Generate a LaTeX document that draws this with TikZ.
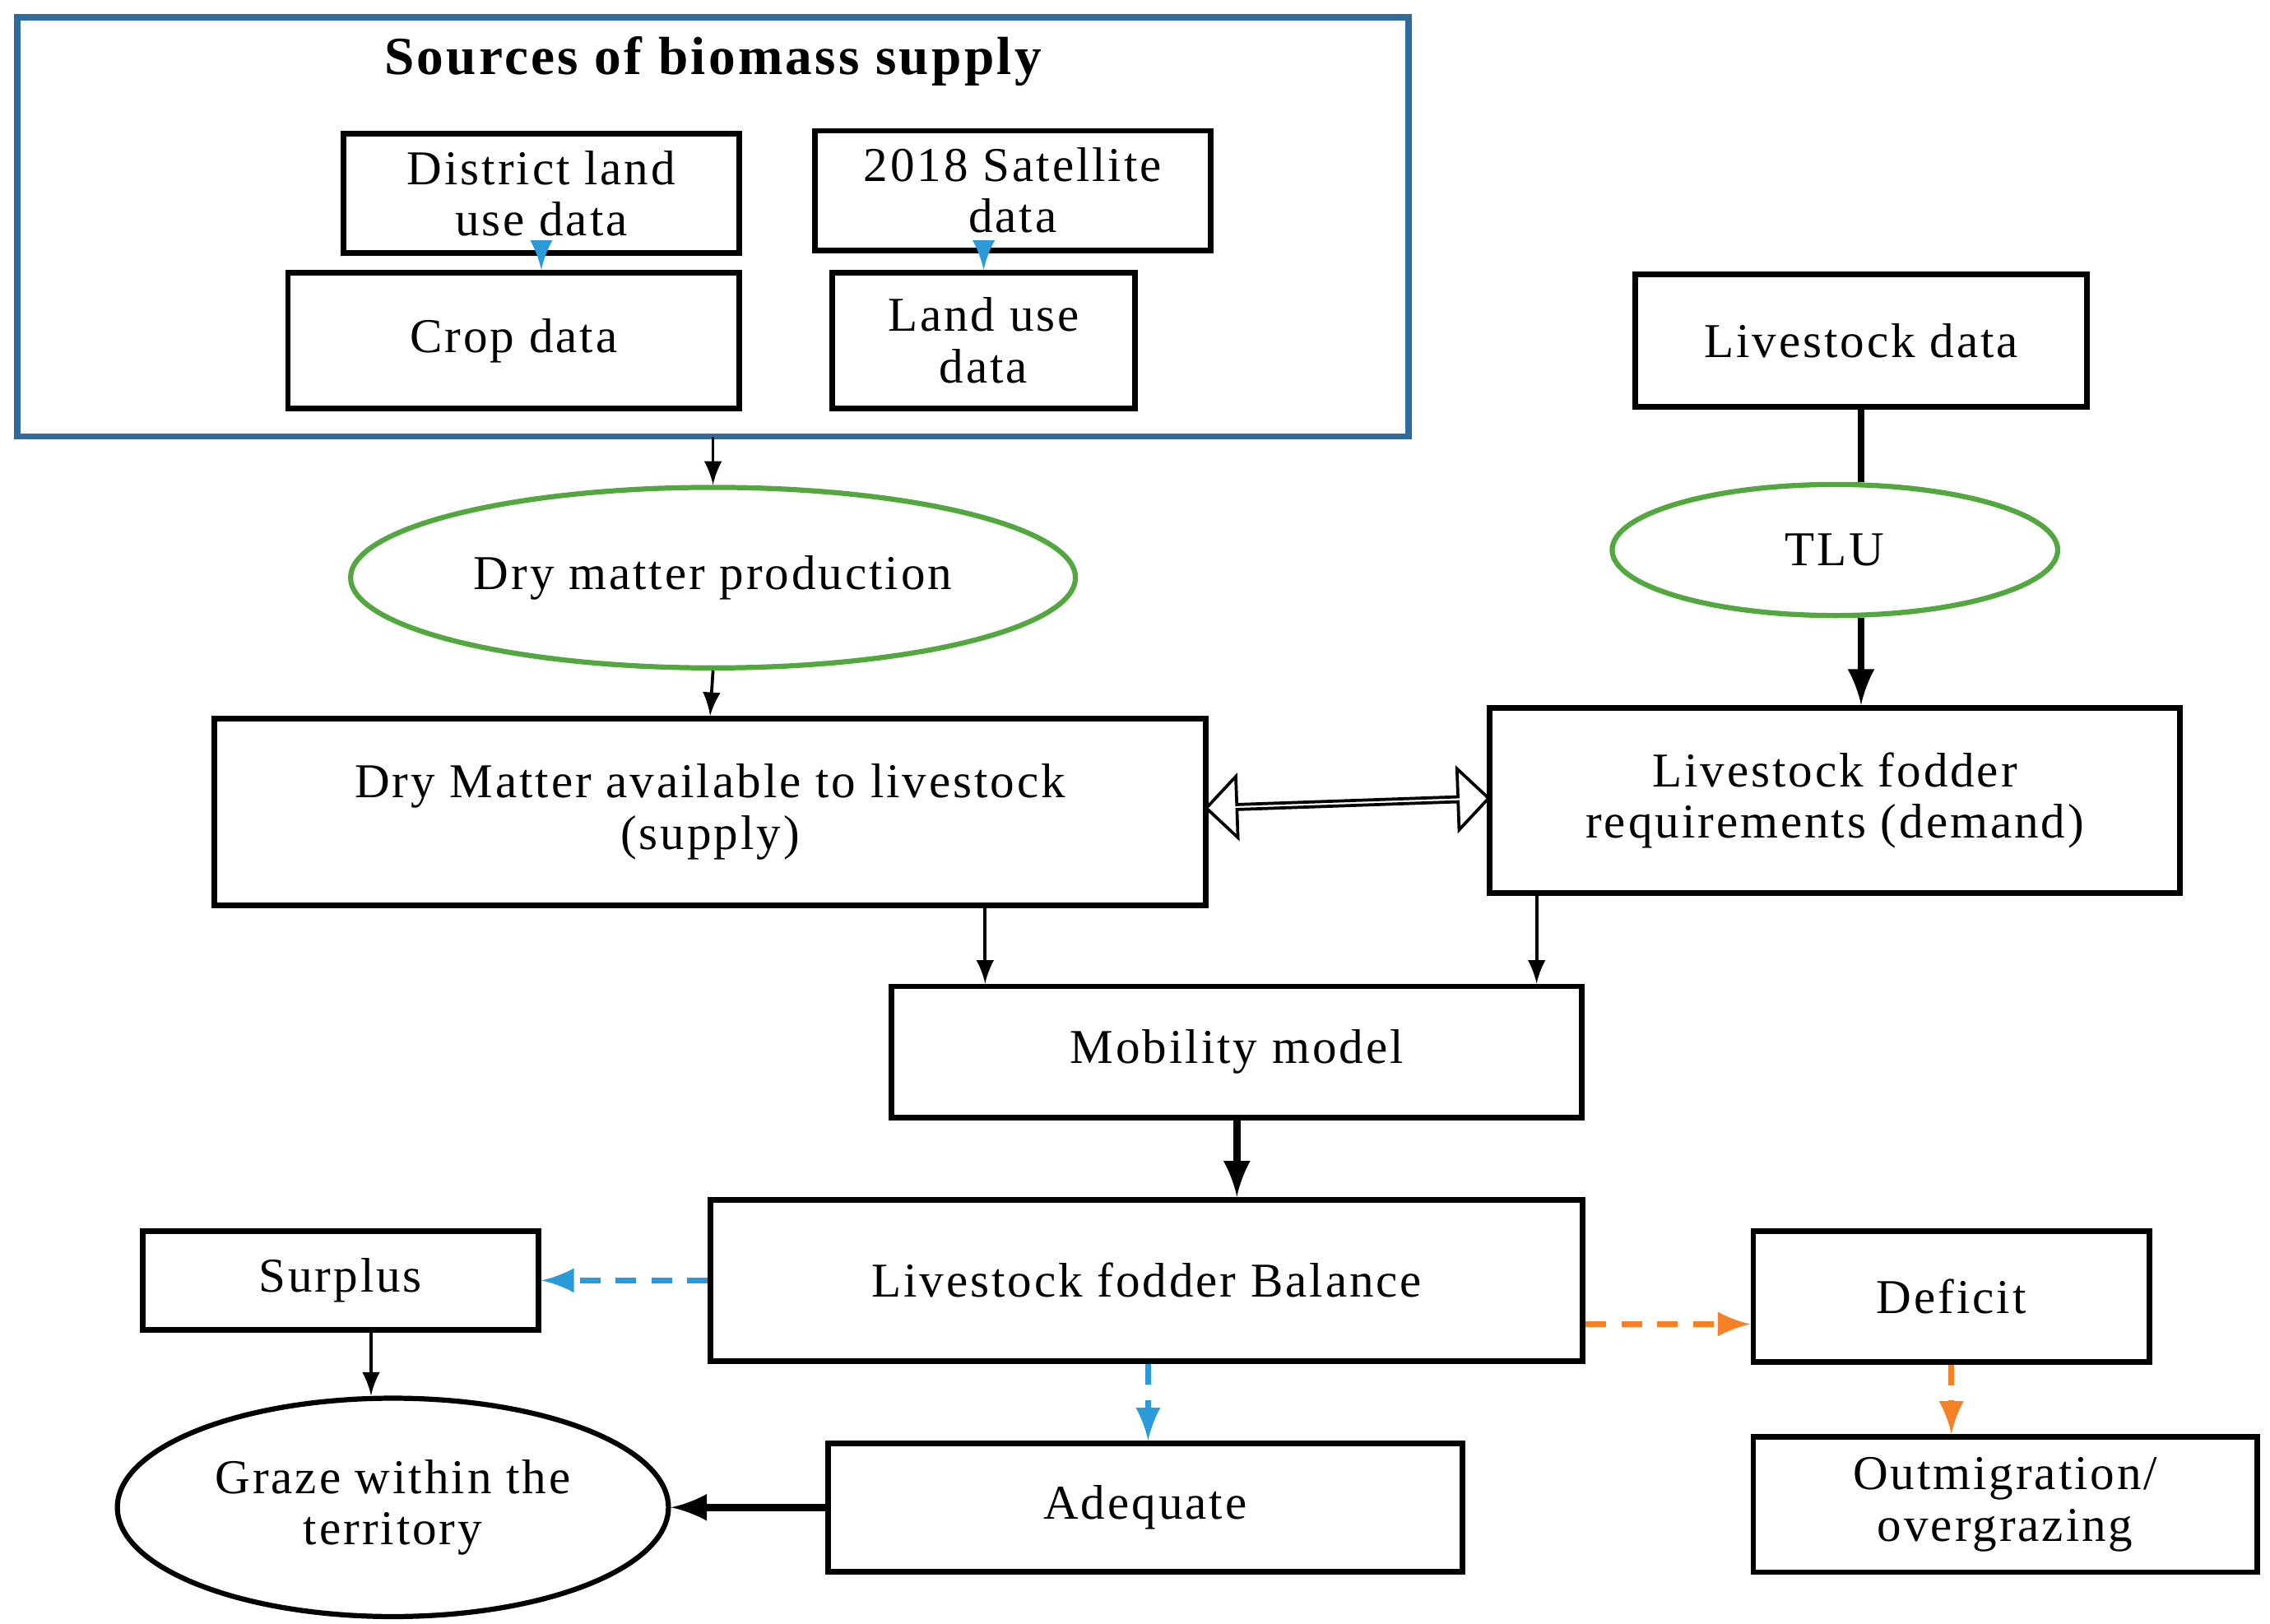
\documentclass[tikz,border=0pt]{standalone}
\usepackage{fontspec}
\setmainfont{Liberation Serif}[LetterSpace=5]
\usepackage{xcolor}
\usetikzlibrary{arrows,calc,shapes.geometric,shapes.arrows}
\definecolor{frameblue}{HTML}{2E6C9C}
\definecolor{ovalgreen}{HTML}{52A83E}
\definecolor{dashblue}{HTML}{2A9AD8}
\definecolor{dashorange}{HTML}{F58025}
\tikzset{
	box/.style={draw, line width=1.1pt, minimum width=#1, align=center, font=\fontsize{9.5}{10}\selectfont},
	oval/.style={draw, ellipse, line width=1pt, align=center, font=\fontsize{9.5}{10}\selectfont},
	thin arrow/.style={->, >=latex, line width=0.6pt},
	thick arrow/.style={->, >=latex, line width=1.4pt},
	blue dash/.style={->, >=latex, dashed, line width=1.2pt, draw=dashblue, dash pattern=on 4pt off 3pt},
	orange dash/.style={->, >=latex, dashed, line width=1.2pt, draw=dashorange, dash pattern=on 4pt off 3pt}
}
\begin{document}
\begin{tikzpicture}[x=0.01cm, y=-0.01cm]
\useasboundingbox (0,0) rectangle (1560,1116);
% Sources of biomass supply
\draw[frameblue, line width=1.2pt] (12,12) rectangle (968,300);
\node[font=\fontsize{10.5}{11}\bfseries\selectfont] (src) at (490,42) {Sources of biomass supply};
\node[box=2.72cm, minimum height=0.76cm] (district) at (372,133) {District land\\use data};
\node[box=2.72cm, minimum height=0.75cm] (sat) at (696,131) {2018 Satellite\\data};
\node[box=3.10cm, minimum height=0.93cm] (crop) at (353,234) {Crop data};
\node[box=2.08cm, minimum height=0.93cm] (landuse) at (676,234) {Land use\\data};
\draw[-latex, draw=dashblue, line width=1pt] (district.south -| crop.north -| 372,0) -- (crop.north -| 372,0);
\draw[-latex, draw=dashblue, line width=1pt] (sat.south -| 676,0) -- (landuse.north -| 676,0);
\coordinate (srcbottom) at (490,300);
% Supply and demand
\node[oval, draw=ovalgreen, minimum width=4.74cm, minimum height=1.24cm] (dmp) at (490,397) {Dry matter production};
\node[box=3.10cm, minimum height=0.91cm] (lsdata) at (1279,234) {Livestock data};
\node[oval, draw=ovalgreen, minimum width=3.06cm, minimum height=0.90cm] (tlu) at (1261,378) {TLU};
\node[box=6.81cm, minimum height=1.28cm] (supply) at (488,558) {Dry Matter available to livestock\\(supply)};
\node[box=4.74cm, minimum height=1.27cm] (demand) at (1261,550) {Livestock fodder\\requirements (demand)};
\node[draw, double arrow, line width=0.6pt, minimum width=0.42cm, double arrow head extend=0.12cm, minimum height=1.94cm, inner sep=0pt, rotate=2] (both) at (926,552) {};
\draw[thin arrow] (srcbottom) -- (dmp.north);
\draw[thin arrow] (dmp.south) -- (supply.north);
\draw[line width=1.4pt] (lsdata.south) -- (tlu.north -| lsdata.south);
\draw[thick arrow] (tlu.south -| demand.north -| 1279,0) -- (demand.north -| 1279,0);
% Balance
\node[box=4.74cm, minimum height=0.90cm] (mob) at (850,723) {Mobility model};
\node[box=5.99cm, minimum height=1.11cm] (bal) at (788,880) {Livestock fodder Balance};
\draw[thin arrow] (supply.south -| 677,0) -- (mob.north -| 677,0);
\draw[thin arrow] (demand.south -| 1056,0) -- (mob.north -| 1056,0);
\draw[thick arrow] (mob.south -| 850,0) -- (bal.north -| 850,0);
% Outcomes
\node[box=2.72cm, minimum height=0.68cm] (surplus) at (234,880) {Surplus};
\node[box=2.72cm, minimum height=0.90cm] (deficit) at (1341,891) {Deficit};
\node[box=4.36cm, minimum height=0.88cm] (adequate) at (787,1036) {Adequate};
\node[box=3.46cm, minimum height=0.93cm] (outmig) at (1378,1034) {Outmigration/\\overgrazing};
\node[oval, minimum width=3.44cm, minimum height=1.50cm] (graze) at (270,1036) {Graze within the\\territory};
\draw[blue dash] (bal.west) -- (surplus.east);
\draw[blue dash] (bal.south -| 789,0) -- (adequate.north -| 789,0);
\draw[orange dash] (bal.east |- 0,910) -- (deficit.west |- 0,910);
\draw[orange dash] (deficit.south -| 1341,0) -- (outmig.north -| 1341,0);
\draw[thin arrow] (surplus.south -| 255,0) -- (graze.north -| 255,0);
\draw[thick arrow] (adequate.west) -- (graze.east);
\end{tikzpicture}
\end{document}
